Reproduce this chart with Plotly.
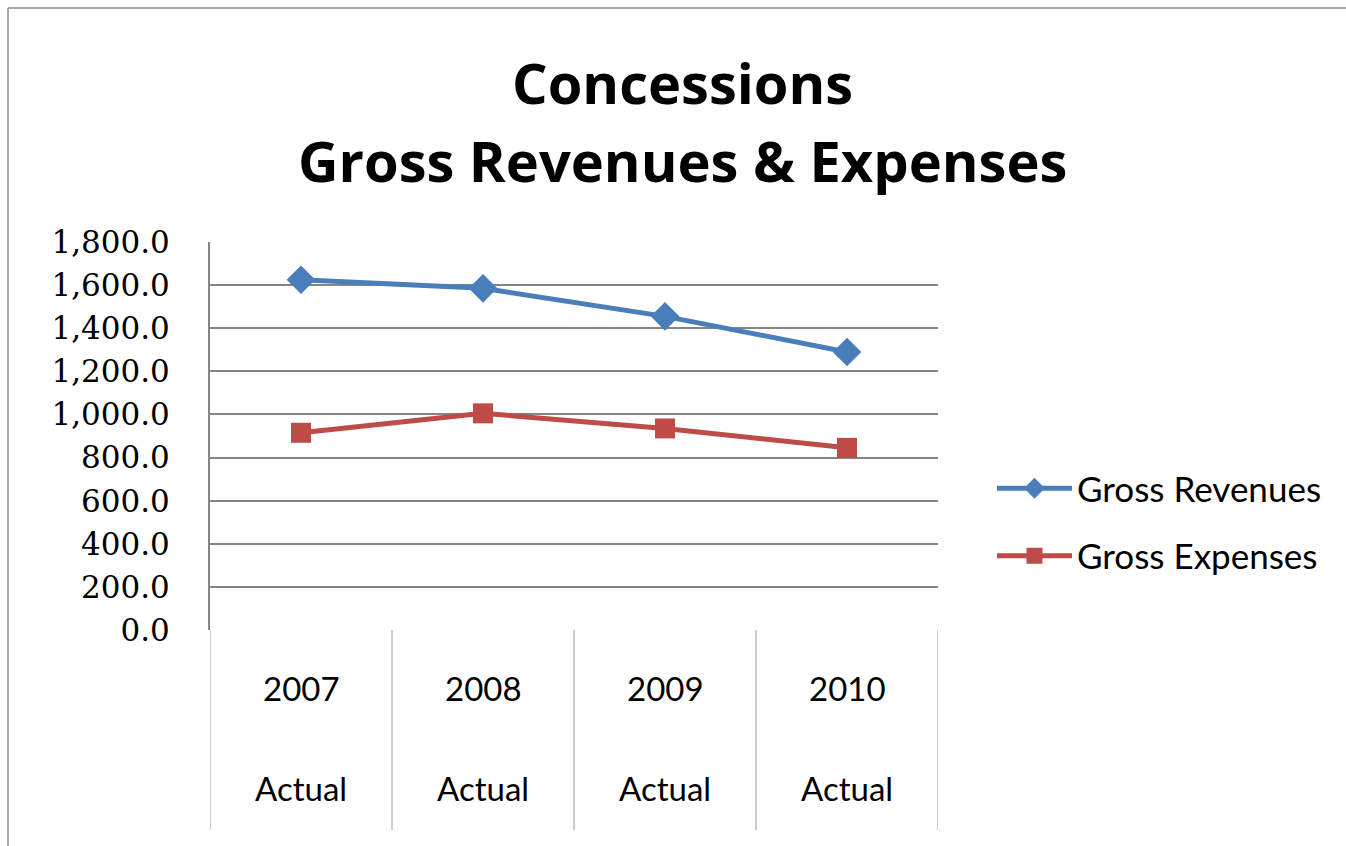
import plotly.graph_objects as go

# Concessions data (thousands)
years = ["2007", "2008", "2009", "2010"]
period = ["Actual", "Actual", "Actual", "Actual"]
gross_revenues = [1625, 1585, 1455, 1290]
gross_expenses = [915, 1005, 935, 845]
y_ticks = [0, 200, 400, 600, 800, 1000, 1200, 1400, 1600, 1800]

W, H = 1346, 846
L, R, T, B = 210, 938, 242, 630  # plot area in pixels
pw, ph = R - L, B - T


def px_x(px):
    return (px - L) / pw


def px_y(py):
    return (B - py) / ph


xpos = list(range(len(years)))

fig = go.Figure()
fig.add_trace(go.Scatter(
    x=xpos, y=gross_revenues, name="Gross Revenues", mode="lines+markers",
    line=dict(color="#4a7ebb", width=5),
    marker=dict(symbol="diamond", size=22, color="#4a7ebb"),
    legendgroup="rev",
))
fig.add_trace(go.Scatter(
    x=xpos, y=gross_expenses, name="Gross Expenses", mode="lines+markers",
    line=dict(color="#be4b48", width=5),
    marker=dict(symbol="square", size=20, color="#be4b48"),
    legendgroup="exp",
))

shapes = []
# category dividers below the plot area
for i in range(len(years) + 1):
    shapes.append(dict(type="line", xref="x", yref="paper",
                       x0=i - 0.5, x1=i - 0.5, y0=0, y1=px_y(830),
                       line=dict(color="#9a9a9a", width=1)))
# chart frame (top and left edges)
frame = dict(color="#8c8c8c", width=1.5)
shapes.append(dict(type="line", xref="paper", yref="paper",
                   x0=px_x(8), x1=px_x(1346), y0=px_y(8), y1=px_y(8), line=frame))
shapes.append(dict(type="line", xref="paper", yref="paper",
                   x0=px_x(8), x1=px_x(8), y0=px_y(8), y1=px_y(846), line=frame))

annotations = [
    dict(text="<b>Concessions</b>", x=px_x(682), y=px_y(82)),
    dict(text="<b>Gross Revenues & Expenses</b>", x=px_x(682), y=px_y(160)),
]
for a in annotations:
    a.update(xref="paper", yref="paper", showarrow=False,
             xanchor="center", yanchor="middle",
             font=dict(family="Open Sans", size=56, color="#000000"))
for i, (yr, p) in enumerate(zip(years, period)):
    annotations.append(dict(text=yr, x=i, xref="x", y=px_y(688), yref="paper",
                            showarrow=False, yanchor="middle",
                            font=dict(family="Lato", size=33, color="#000000")))
    annotations.append(dict(text=p, x=i, xref="x", y=px_y(788), yref="paper",
                            showarrow=False, yanchor="middle",
                            font=dict(family="Lato", size=33, color="#000000")))

fig.update_layout(
    width=W, height=H,
    margin=dict(l=L, r=W - R, t=T, b=H - B),
    paper_bgcolor="white", plot_bgcolor="white",
    showlegend=True,
    legend=dict(x=px_x(992), y=px_y(459), xanchor="left", yanchor="top",
                font=dict(family="Lato", size=35, color="#000000"),
                itemwidth=75, traceorder="grouped", tracegroupgap=19,
                bgcolor="rgba(0,0,0,0)"),
    shapes=shapes,
    annotations=annotations,
)
fig.update_xaxes(range=[-0.5, 3.5], showticklabels=False,
                 showgrid=False, zeroline=False, showline=False, ticks="")
fig.update_yaxes(range=[0, 1800], tickvals=y_ticks, tickformat=",.1f",
                 showgrid=True, gridcolor="#858585", gridwidth=2,
                 showline=True, linecolor="#858585", linewidth=2,
                 zeroline=False, ticks="", ticklabelstandoff=32,
                 tickfont=dict(family="DejaVu Serif", size=31, color="#000000"))

fig.write_html("out.html")
